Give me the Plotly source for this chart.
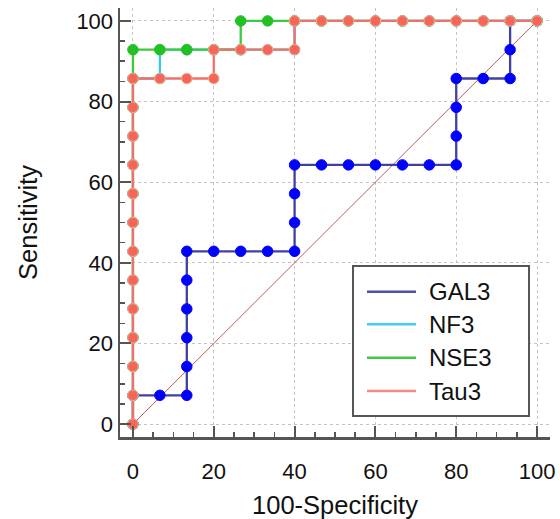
import plotly.graph_objects as go

# ROC data: 100-Specificity (x) and Sensitivity (y)
gal3_x = [0, 0, 6.67, 13.33, 13.33, 13.33, 13.33, 13.33, 13.33, 20, 26.67, 33.33, 40, 40, 40, 40,
          46.67, 53.33, 60, 66.67, 73.33, 80, 80, 80, 80, 86.67, 93.33, 93.33, 93.33, 100]
gal3_y = [0, 7.14, 7.14, 7.14, 14.29, 21.43, 28.57, 35.71, 42.86, 42.86, 42.86, 42.86, 42.86, 50, 57.14, 64.29,
          64.29, 64.29, 64.29, 64.29, 64.29, 64.29, 71.43, 78.57, 85.71, 85.71, 85.71, 92.86, 100, 100]

nf3_x = [0, 0, 0, 0, 0, 0, 0, 0, 0, 0, 0, 0, 0, 6.67, 6.67, 13.33, 20, 26.67, 33.33, 40, 40,
         46.67, 53.33, 60, 66.67, 73.33, 80, 86.67, 93.33, 100]
nf3_y = [0, 7.14, 14.29, 21.43, 28.57, 35.71, 42.86, 50, 57.14, 64.29, 71.43, 78.57, 85.71, 85.71, 92.86,
         92.86, 92.86, 92.86, 92.86, 92.86, 100, 100, 100, 100, 100, 100, 100, 100, 100, 100]

nse3_x = [0, 0, 0, 0, 0, 0, 0, 0, 0, 0, 0, 0, 0, 0, 6.67, 13.33, 20, 26.67, 26.67, 33.33, 40,
          46.67, 53.33, 60, 66.67, 73.33, 80, 86.67, 93.33, 100]
nse3_y = [0, 7.14, 14.29, 21.43, 28.57, 35.71, 42.86, 50, 57.14, 64.29, 71.43, 78.57, 85.71, 92.86,
          92.86, 92.86, 92.86, 92.86, 100, 100, 100, 100, 100, 100, 100, 100, 100, 100, 100, 100]

tau3_x = [0, 0, 0, 0, 0, 0, 0, 0, 0, 0, 0, 0, 0, 6.67, 13.33, 20, 20, 26.67, 33.33, 40, 40,
          46.67, 53.33, 60, 66.67, 73.33, 80, 86.67, 93.33, 100]
tau3_y = [0, 7.14, 14.29, 21.43, 28.57, 35.71, 42.86, 50, 57.14, 64.29, 71.43, 78.57, 85.71, 85.71,
          85.71, 85.71, 92.86, 92.86, 92.86, 92.86, 100, 100, 100, 100, 100, 100, 100, 100, 100, 100]

diag_x = [0, 100]
diag_y = [0, 100]

tick_vals = [0, 20, 40, 60, 80, 100]
series_names = ["GAL3", "NF3", "NSE3", "Tau3"]

FONT = "Liberation Sans, Arial, sans-serif"

fig = go.Figure()
fig.add_trace(go.Scatter(x=diag_x, y=diag_y, mode="lines", showlegend=False,
                         line=dict(color="rgba(160,40,40,0.75)", width=1), hoverinfo="skip"))

styles = {
    "GAL3": ("#4040A0", "#0000FF", "#0000FF", "#5050A8"),
    "NF3": ("#33C8F5", "#33C8F5", "#33C8F5", "#40CCF5"),
    "NSE3": ("#3CCB3C", "#22C022", "#22C022", "#40C840"),
    "Tau3": ("#F27068", "#F8645C", "#EBB48A", "#F48A86"),
}
data = {"GAL3": (gal3_x, gal3_y), "NF3": (nf3_x, nf3_y),
        "NSE3": (nse3_x, nse3_y), "Tau3": (tau3_x, tau3_y)}

for name in series_names:
    xs, ys = data[name]
    lc, mc, ml, _ = styles[name]
    fig.add_trace(go.Scatter(
        x=xs, y=ys, name=name, mode="lines+markers", showlegend=False,
        line=dict(color=lc, width=2.3),
        marker=dict(color=mc, size=10.5, line=dict(color=ml, width=1)),
    ))

axis_common = dict(
    range=[-3.2, 103.2], tickvals=tick_vals, ticks="inside", ticklen=11, tickwidth=2,
    tickcolor="#555555", showline=True, linewidth=2.5, linecolor="#555555",
    showgrid=True, gridcolor="#c4c4c4", gridwidth=1, griddash="dot", zeroline=False,
    minor=dict(dtick=5, ticks="inside", ticklen=5, tickwidth=1.5, tickcolor="#555555", showgrid=False),
    tickfont=dict(family=FONT, size=22, color="#111111"),
    fixedrange=True, automargin=False,
)

# Custom legend box (paper coordinates of the plot area)
shapes = [dict(type="rect", xref="paper", yref="paper", x0=0.5419, x1=0.9512, y0=0.0490, y1=0.3986,
               line=dict(color="#555555", width=2), fillcolor="white", layer="above")]
annotations = []
legend_rows = [0.3387, 0.2627, 0.1848, 0.1072]
for name, yy in zip(series_names, legend_rows):
    shapes.append(dict(type="line", xref="paper", yref="paper", x0=0.5744, x1=0.6884, y0=yy, y1=yy,
                       line=dict(color=styles[name][3], width=2.5), layer="above"))
    annotations.append(dict(text=name, xref="paper", yref="paper", x=0.7140, y=yy,
                            xanchor="left", yanchor="middle", showarrow=False,
                            font=dict(family=FONT, size=24, color="#111111")))

fig.update_layout(
    width=560, height=519,
    margin=dict(l=120, r=10, t=8, b=82),
    paper_bgcolor="white", plot_bgcolor="white",
    font=dict(family=FONT, size=22, color="#111111"),
    xaxis=dict(**axis_common, title=dict(text="100-Specificity", font=dict(family=FONT, size=25.5), standoff=20),
               ticklabelstandoff=13),
    yaxis=dict(**axis_common, title=dict(text="Sensitivity", font=dict(family=FONT, size=25.5), standoff=32)),
    shapes=shapes,
    annotations=annotations,
    showlegend=False,
)

fig.write_html("out.html", config={"displayModeBar": False, "staticPlot": True},
               post_script="document.body.style.margin='0';document.body.style.overflow='hidden';")
